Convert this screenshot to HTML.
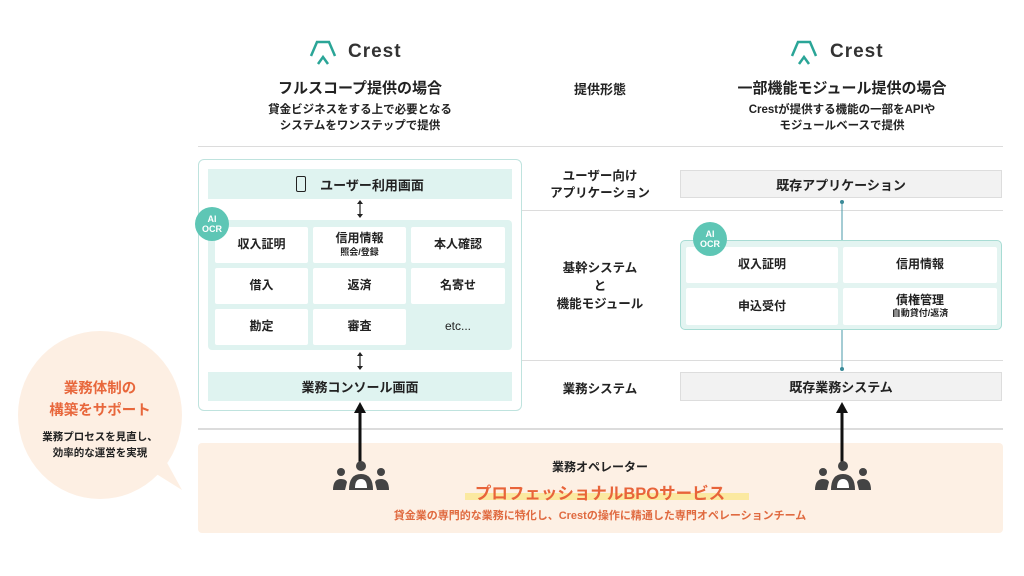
<!DOCTYPE html>
<html><head><meta charset="utf-8"><style>
*{margin:0;padding:0;box-sizing:border-box}
body{width:1024px;height:576px;background:#fff;position:relative;overflow:hidden;font-family:"Liberation Sans","Noto Sans CJK JP",sans-serif;color:#222}
.a{position:absolute}
.c{position:absolute;text-align:center;white-space:nowrap;transform:translateX(-50%)}
.hl{position:absolute;height:1px;background:#dcdcdc;left:198px;width:805px}
.bar{position:absolute;display:flex;align-items:center;justify-content:center;font-size:13px;font-weight:bold}
.cell{position:absolute;background:#fff;border-radius:2px;display:flex;flex-direction:column;align-items:center;justify-content:center;font-size:12px;font-weight:bold;line-height:1.3}
.cell small{font-size:9px}
.ocr{position:absolute;width:34px;height:34px;border-radius:50%;background:#5ec6b5;color:#fff;font-size:9px;font-weight:bold;line-height:10px;text-align:center;padding-top:7px}
</style></head><body>
<!-- logos -->
<svg class="a" style="left:308px;top:38px" width="30" height="28"><path d="M3 18 L9 4 L21 4 L27 18" fill="none" stroke="#2aa597" stroke-width="2.5"/><path d="M10 26 L15 19 L20 26" fill="none" stroke="#2aa597" stroke-width="2.5"/></svg>
<div class="a" style="left:348px;top:41px;font-size:19px;letter-spacing:1px;font-weight:bold;color:#333">Crest</div>
<svg class="a" style="left:789px;top:38px" width="30" height="28"><path d="M3 18 L9 4 L21 4 L27 18" fill="none" stroke="#2aa597" stroke-width="2.5"/><path d="M10 26 L15 19 L20 26" fill="none" stroke="#2aa597" stroke-width="2.5"/></svg>
<div class="a" style="left:830px;top:41px;font-size:19px;letter-spacing:1px;font-weight:bold;color:#333">Crest</div>

<div class="c" style="left:360px;top:77px;font-size:15px;font-weight:bold">フルスコープ提供の場合</div>
<div class="c" style="left:360px;top:102px;font-size:11.5px;font-weight:bold;line-height:16px">貸金ビジネスをする上で必要となる<br>システムをワンステップで提供</div>
<div class="c" style="left:600px;top:79px;font-size:13px;font-weight:bold">提供形態</div>
<div class="c" style="left:842px;top:77px;font-size:15px;font-weight:bold">一部機能モジュール提供の場合</div>
<div class="c" style="left:842px;top:102px;font-size:11.5px;font-weight:bold;line-height:16px">Crestが提供する機能の一部をAPIや<br>モジュールベースで提供</div>

<div class="hl" style="top:146px"></div>
<div class="hl" style="top:210px"></div>
<div class="hl" style="top:360px"></div>
<div class="hl" style="top:428px;height:2px"></div>

<!-- left box -->
<div class="a" style="left:198px;top:159px;width:324px;height:252px;border:1.5px solid #bfe3de;border-radius:6px;background:#fff"></div>
<div class="bar" style="left:208px;top:169px;width:304px;height:30px;background:#dff3f0"><span style="display:inline-block;width:10px;height:16px;border:1.5px solid #222;border-radius:2px;margin-right:14px"></span>ユーザー利用画面</div>
<div class="a" style="left:208px;top:220px;width:304px;height:130px;background:#dff3f0;border-radius:4px"></div>
<div class="cell" style="left:215px;top:227px;width:93px;height:36px">収入証明</div>
<div class="cell" style="left:313px;top:227px;width:93px;height:36px">信用情報<small>照会/登録</small></div>
<div class="cell" style="left:411px;top:227px;width:94px;height:36px">本人確認</div>
<div class="cell" style="left:215px;top:268px;width:93px;height:36px">借入</div>
<div class="cell" style="left:313px;top:268px;width:93px;height:36px">返済</div>
<div class="cell" style="left:411px;top:268px;width:94px;height:36px">名寄せ</div>
<div class="cell" style="left:215px;top:309px;width:93px;height:36px">勘定</div>
<div class="cell" style="left:313px;top:309px;width:93px;height:36px">審査</div>
<div class="cell" style="left:411px;top:309px;width:94px;height:36px;background:none;font-weight:normal">etc...</div>
<div class="ocr" style="left:195px;top:207px">AI<br>OCR</div>
<div class="bar" style="left:208px;top:372px;width:304px;height:29px;background:#dff3f0">業務コンソール画面</div>
<svg class="a" style="left:354px;top:199px" width="12" height="175"><path d="M6 3 V17 M6 155 V169" stroke="#222" stroke-width="1.2"/><path d="M3 5 L6 1 L9 5 Z M3 15 L6 19 L9 15 Z M3 157 L6 153 L9 157 Z M3 167 L6 171 L9 167 Z" fill="#222"/></svg>

<!-- middle labels -->
<div class="c" style="left:600px;top:168px;font-size:12.5px;font-weight:bold;line-height:17px">ユーザー向け<br>アプリケーション</div>
<div class="c" style="left:600px;top:259px;font-size:12.5px;font-weight:bold;line-height:18px">基幹システム<br>と<br>機能モジュール</div>
<div class="c" style="left:600px;top:378px;font-size:12.5px;font-weight:bold">業務システム</div>

<!-- right -->
<div class="bar" style="left:680px;top:170px;width:322px;height:28px;background:#f2f2f2;border:1px solid #ddd">既存アプリケーション</div>
<svg class="a" style="left:838px;top:198px" width="8" height="176"><path d="M4 3 V172" stroke="#4a9aa8" stroke-width="1"/><circle cx="4" cy="4" r="2" fill="#3a8a98"/><circle cx="4" cy="171" r="2" fill="#3a8a98"/></svg>
<div class="a" style="left:680px;top:240px;width:322px;height:90px;background:#e3f4f1;border:1.5px solid #a8dcd4;border-radius:5px"></div>
<div class="cell" style="left:686px;top:247px;width:152px;height:36px">収入証明</div>
<div class="cell" style="left:843px;top:247px;width:154px;height:36px">信用情報</div>
<div class="cell" style="left:686px;top:288px;width:152px;height:37px">申込受付</div>
<div class="cell" style="left:843px;top:288px;width:154px;height:37px">債権管理<small>自動貸付/返済</small></div>
<div class="ocr" style="left:693px;top:222px">AI<br>OCR</div>
<div class="bar" style="left:680px;top:372px;width:322px;height:29px;background:#f2f2f2;border:1px solid #ddd">既存業務システム</div>

<!-- left bubble -->
<svg class="a" style="left:10px;top:330px" width="190" height="180"><ellipse cx="90" cy="85" rx="82" ry="84" fill="#fdefe3"/><path d="M140 140 L172 160 L150 120 Z" fill="#fdefe3"/></svg>
<div class="c" style="left:100px;top:378px;font-size:14.5px;font-weight:bold;color:#e8673c;line-height:22px">業務体制の<br>構築をサポート</div>
<div class="c" style="left:100px;top:429px;font-size:10.5px;font-weight:bold;line-height:16px">業務プロセスを見直し、<br>効率的な運営を実現</div>

<!-- bottom band -->
<div class="a" style="left:198px;top:443px;width:805px;height:90px;background:#fdf0e4;border-radius:4px"></div>
<svg class="a" style="left:350px;top:400px" width="20" height="64"><path d="M10 10 V62" stroke="#111" stroke-width="3"/><path d="M4 13 L10 2 L16 13 Z" fill="#111"/></svg>
<svg class="a" style="left:832px;top:400px" width="20" height="64"><path d="M10 10 V62" stroke="#111" stroke-width="3"/><path d="M4 13 L10 2 L16 13 Z" fill="#111"/></svg>
<svg class="a" style="left:333px;top:460px" width="56" height="32"><g fill="#444"><circle cx="28" cy="6" r="5"/><circle cx="8" cy="12" r="4"/><circle cx="48" cy="12" r="4"/><path d="M16 30 Q16 14 28 14 Q40 14 40 30 Z"/><path d="M0 30 Q0 19 8 19 Q13 19 14 22 L12 30Z"/><path d="M56 30 Q56 19 48 19 Q43 19 42 22 L44 30Z"/></g><path d="M22 28 Q22 19 28 19 Q34 19 34 28" fill="#fff"/></svg>
<svg class="a" style="left:815px;top:460px" width="56" height="32"><g fill="#444"><circle cx="28" cy="6" r="5"/><circle cx="8" cy="12" r="4"/><circle cx="48" cy="12" r="4"/><path d="M16 30 Q16 14 28 14 Q40 14 40 30 Z"/><path d="M0 30 Q0 19 8 19 Q13 19 14 22 L12 30Z"/><path d="M56 30 Q56 19 48 19 Q43 19 42 22 L44 30Z"/></g><path d="M22 28 Q22 19 28 19 Q34 19 34 28" fill="#fff"/></svg>
<div class="c" style="left:600px;top:458px;font-size:12px;font-weight:bold">業務オペレーター</div>
<div class="a" style="left:465px;top:493px;width:284px;height:7px;background:#fbe9a0"></div>
<div class="c" style="left:600px;top:480px;font-size:16.5px;font-weight:bold;color:#e8643a">プロフェッショナルBPOサービス</div>
<div class="c" style="left:600px;top:507px;font-size:11px;font-weight:bold;color:#e06a40">貸金業の専門的な業務に特化し、Crestの操作に精通した専門オペレーションチーム</div>
</body></html>
